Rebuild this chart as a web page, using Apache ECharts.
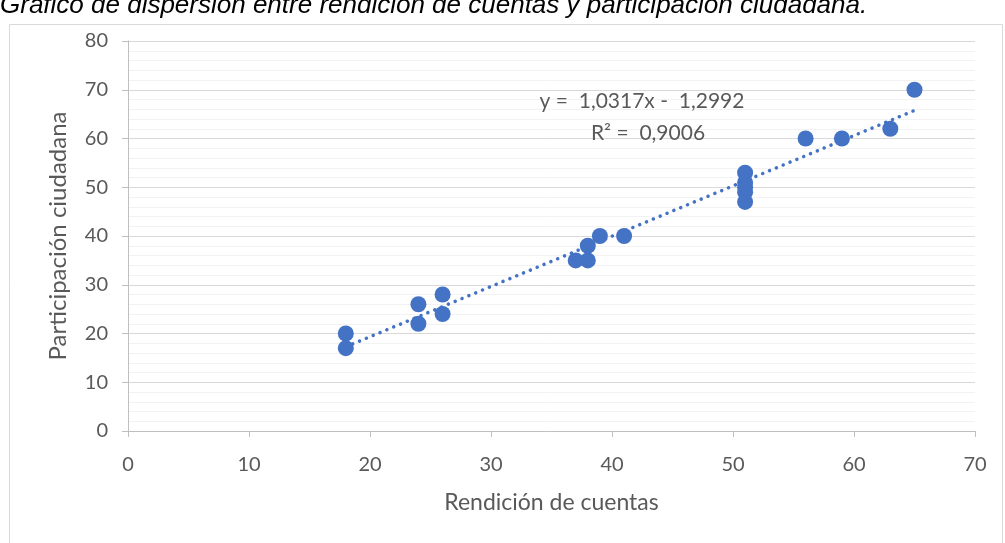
<!DOCTYPE html>
<html>
<head>
<meta charset="utf-8">
<script src="https://cdn.jsdelivr.net/npm/echarts@6/dist/echarts.min.js"></script>
<style>html,body{margin:0;padding:0;background:#fff}#c{width:1005px;height:543px}</style>
</head>
<body>
<div id="c"></div>
<script>
const rendicion = [18,18,24,24,26,26,37,38,38,39,41,51,51,51,51,51,56,59,63,65];
const participacion = [20,17,26,22,28,24,35,35,38,40,40,53,51,50,49,47,60,60,62,70];
const trendSlope = 1.0317;
const trendIntercept = -1.2992;
const trendRange = [18, 65];
const xTicks = [0,10,20,30,40,50,60,70];
const yTicks = [0,10,20,30,40,50,60,70,80];
const titleText = 'Gráfico de dispersión entre rendición de cuentas y participación ciudadana.';
const eqText = 'y =  1,0317x -  1,2992';
const r2Text = 'R² =  0,9006';

const points = rendicion.map((x,i)=>[x, participacion[i]]);
const trend = trendRange.map(x=>[x, trendSlope*x + trendIntercept]);

const chart = echarts.init(document.getElementById('c'), null, {renderer:'canvas'});
const font = 'Lato, "Open Sans", sans-serif';
chart.setOption({
  animation:false,
  backgroundColor:'#fff',
  graphic:[
    {type:'rect', shape:{x:9.5,y:24.5,width:993,height:540}, style:{fill:'none',stroke:'#D9D9D9',lineWidth:1}, z:-1},
    {type:'text', left:0, top:-7, style:{text:titleText, font:'italic 26px "Liberation Sans", Arial, sans-serif', fill:'#000'}},
    {type:'text', x:642, y:101, style:{text:eqText, font:'21px '+font, fill:'#595959', align:'center', verticalAlign:'middle'}, z:10},
    {type:'text', x:648, y:133, style:{text:r2Text, font:'21px '+font, fill:'#595959', align:'center', verticalAlign:'middle'}, z:10}
  ],
  grid:{left:128, right:30, top:41, bottom:112},
  xAxis:{
    type:'value', min:0, max:70, interval:10,
    name:'Rendición de cuentas', nameLocation:'middle', nameGap:60,
    nameTextStyle:{fontFamily:font, fontSize:23, color:'#595959'},
    axisLine:{show:true, lineStyle:{color:'#BFBFBF'}},
    axisTick:{show:true, length:6, lineStyle:{color:'#BFBFBF'}},
    axisLabel:{fontFamily:font, fontSize:20, color:'#595959', margin:24, formatter:v=>xTicks.includes(v)?String(v):''},
    splitLine:{show:false}
  },
  yAxis:{
    type:'value', min:0, max:80, interval:10,
    name:'Participación ciudadana', nameLocation:'middle', nameGap:58,
    nameTextStyle:{fontFamily:font, fontSize:24, color:'#595959'},
    axisLine:{show:true, lineStyle:{color:'#BFBFBF'}},
    axisTick:{show:true, length:6, lineStyle:{color:'#BFBFBF'}},
    axisLabel:{fontFamily:font, fontSize:20, color:'#595959', margin:20, formatter:v=>yTicks.includes(v)?String(v):''},
    splitLine:{show:true, lineStyle:{color:'#D9D9D9', width:1}},
    minorTick:{show:false, splitNumber:5},
    minorSplitLine:{show:true, lineStyle:{color:'#F2F2F2', width:1}}
  },
  series:[
    {type:'line', data:trend, showSymbol:false, symbol:'none',
     lineStyle:{color:'#4472C4', width:3.5, type:[0.1,7.3], cap:'round'}, z:3},
    {type:'scatter', data:points, symbol:'circle', symbolSize:16,
     itemStyle:{color:'#4472C4', opacity:1}, z:4}
  ]
});
</script>
</body>
</html>
